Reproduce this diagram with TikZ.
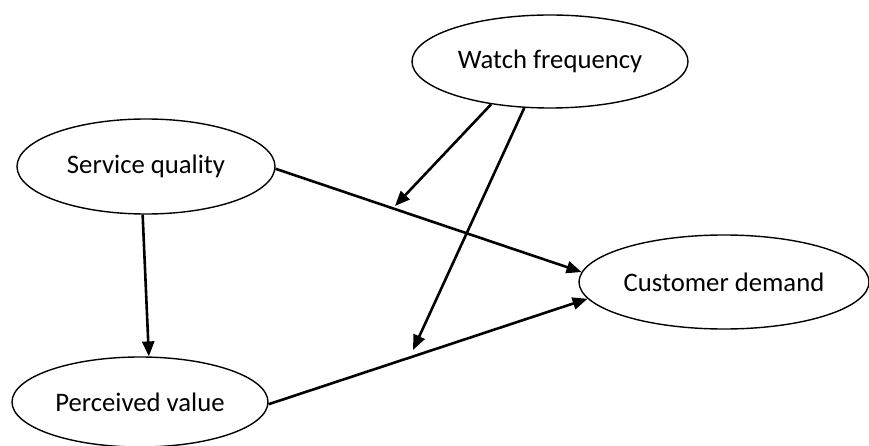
\documentclass[tikz,border=0pt]{standalone}
\usepackage{fontspec}
\setmainfont{Carlito}
\usetikzlibrary{arrows.meta,shapes.geometric}

\tikzset{
  construct/.style={ellipse, draw, line width=1.4pt, inner sep=0pt,
    font=\fontsize{26.7}{32}\selectfont},
  path link/.style={line width=2.6pt, -{Triangle[length=15pt,width=12pt]}},
}

\begin{document}
\begin{tikzpicture}[x=1pt,y=-1pt]
  \useasboundingbox (0,0) rectangle (869,446);

  % constructs
  \node[construct, minimum width=276pt, minimum height=93pt] (wf) at (550,61.5) {Watch frequency};
  \node[construct, minimum width=258pt, minimum height=95pt] (sq) at (146,166.5) {Service quality};
  \node[construct, minimum width=256pt, minimum height=90pt] (pv) at (140,402) {Perceived value};
  \node[construct, minimum width=290pt, minimum height=94pt] (cd) at (724,282) {Customer demand};

  % moderation targets on the direct paths
  \coordinate (m1) at (395,206);
  \coordinate (m2) at (413,350);

  % direct paths
  \draw[path link] (sq.-1) -- (cd.176);
  \draw[path link] (pv.-1) -- (cd.187);
  \draw[path link] (sq.266.5) -- (pv.79);

  % moderating effects
  \draw[path link] (wf.216) -- (m1);
  \draw[path link] (wf.241) -- (m2);
\end{tikzpicture}
\end{document}
